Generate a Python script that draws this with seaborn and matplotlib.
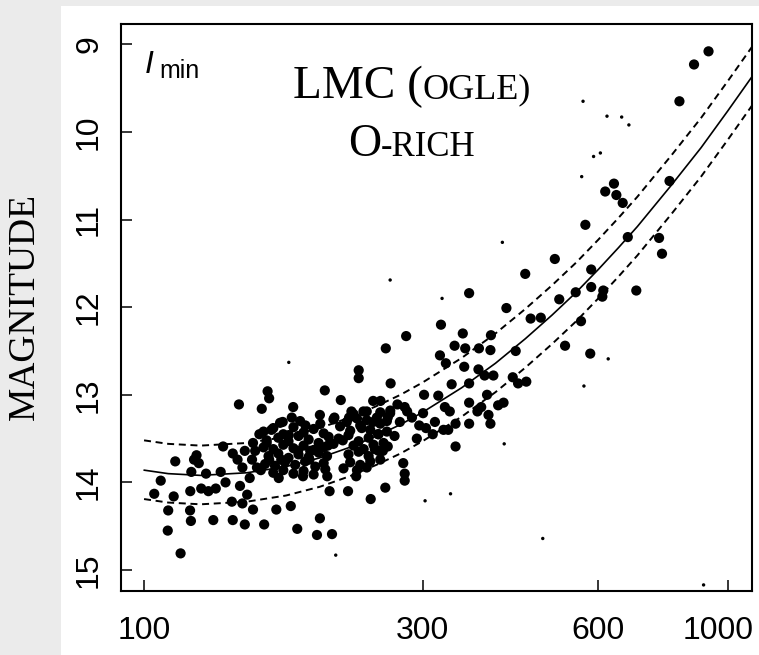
import numpy as np
import pandas as pd
import matplotlib
matplotlib.use("Agg")
import matplotlib.pyplot as plt
import matplotlib.transforms as mtransforms
import seaborn as sns
from matplotlib.patches import Rectangle
from matplotlib.ticker import FixedLocator, FixedFormatter, NullLocator

# ---- fitted relation and its +/- band ----
curve_period = [100, 110, 125, 150, 175, 200, 225, 250, 275, 300, 350, 400,
                450, 500, 550, 600, 650, 700, 800, 900, 1000, 1100]
fit_mag = [13.86, 13.90, 13.92, 13.89, 13.82, 13.72, 13.60, 13.47, 13.34, 13.20,
           12.92, 12.64, 12.36, 12.09, 11.83, 11.57, 11.32, 11.08, 10.61, 10.18,
           9.76, 9.37]
upper_mag = [13.52, 13.56, 13.58, 13.55, 13.48, 13.38, 13.26, 13.13, 13.00, 12.86,
             12.58, 12.30, 12.02, 11.75, 11.49, 11.23, 10.98, 10.74, 10.27, 9.84,
             9.42, 9.03]
lower_mag = [14.19, 14.23, 14.25, 14.22, 14.15, 14.05, 13.93, 13.80, 13.67, 13.53,
             13.25, 12.97, 12.69, 12.42, 12.16, 11.90, 11.65, 11.41, 10.94, 10.51,
             10.09, 9.70]

# ---- large dots (period in days, I magnitude at minimum) ----
big_period = [
    104.1, 106.8, 110.0, 109.8, 112.4, 113.1, 115.5, 119.9, 120.3, 121.8, 123.0, 124.1,
    120.5, 120.0, 125.3, 127.7, 128.9, 131.4, 132.7, 135.3, 136.6, 137.9, 141.4, 141.9,
    141.9, 144.6, 145.4, 146.0, 147.4, 148.8, 147.4, 150.2, 148.8, 151.7, 153.1, 153.7,
    153.7, 156.1, 157.6, 159.1, 160.6, 162.2, 162.8, 163.8, 163.8, 165.3, 168.5, 170.1,
    171.8, 172.8, 178.4, 179.1, 180.1, 183.0, 183.6, 187.2, 189.0, 192.6, 197.8, 200.1,
    200.1, 204.0, 206.0, 207.9, 209.9, 211.9, 217.3, 223.6, 224.5, 226.6, 230.9, 233.2,
    233.2, 237.6, 244.5, 246.9, 254.1, 259.0, 259.5, 261.5, 264.5, 264.0, 271.7, 279.6,
    278.0, 279.6, 279.6, 281.2, 282.3, 287.7, 293.3, 296.1, 300.6, 301.8, 304.1, 315.0,
    319.2, 321.3, 322.6, 325.8, 327.6, 328.9, 334.0, 336.5, 340.4, 341.7, 341.7, 351.6,
    353.6, 355.0, 360.5, 360.5, 360.5, 360.5, 372.5, 374.0, 374.7, 378.1, 383.2, 386.9,
    389.1, 392.1, 392.1, 392.9, 396.7, 404.2, 412.9, 417.6, 428.2, 433.2, 437.3, 451.7,
    449.8, 459.5, 478.3, 505.5, 514.4, 526.3, 548.9, 560.5, 570.2, 581.3, 583.5, 583.5,
    609.7, 612.0, 616.7, 638.3, 644.4, 660.7, 674.1, 697.1, 762.6, 771.5, 794.7, 826.4,
    875.4, 926.9,
    261.5, 274.3, 268.6, 256.5, 251.7, 246.9, 312.3, 332.0,
    160.2, 166.5, 173.2, 180.3, 187.6, 195.2, 203.1, 216.7, 225.5, 234.6, 244.1, 253.9,
    162.2, 169.8, 176.8, 183.9, 191.4, 199.1, 207.1, 215.4, 224.0, 233.1, 242.5, 252.2, 260.6,
    160.2, 166.5, 173.2, 180.3, 187.6, 195.2, 203.1, 211.1, 228.5, 237.8, 247.2, 257.2,
    163.4, 169.8, 176.8, 183.9, 191.4, 199.1, 205.8, 224.0, 233.1, 242.5, 252.2,
    161.2, 167.6, 174.3, 181.5, 188.8, 196.5, 203.1, 225.5, 234.6, 244.1, 253.9,
    166.5, 173.2, 180.3, 187.6, 195.2, 204.4, 219.6, 231.6, 240.7,
    171.0, 185.1, 200.4, 211.1, 222.5, 231.6, 240.7, 250.5, 260.6,
    228.5, 240.7, 253.9, 264.1,
    155.0, 158.5, 177.0, 192.0, 206.5, 219.0, 236.0, 248.5,
]
big_mag = [
    14.13, 13.98, 14.32, 14.55, 14.16, 13.76, 14.81, 14.32, 14.44, 13.74, 13.69, 13.78,
    13.88, 14.10, 14.07, 13.90, 14.10, 14.43, 14.07, 13.88, 13.59, 14.00, 14.22, 14.43,
    13.67, 13.74, 13.11, 14.04, 13.83, 14.48, 14.24, 14.14, 13.64, 13.95, 13.74, 14.31,
    13.55, 13.83, 13.45, 13.16, 14.48, 13.55, 12.96, 13.04, 13.74, 13.40, 14.31, 13.95,
    13.74, 13.31, 14.27, 13.26, 13.14, 14.53, 13.64, 13.93, 13.35, 13.64, 14.60, 14.41,
    13.23, 12.95, 13.93, 14.10, 14.59, 13.26, 13.06, 14.10, 13.26, 13.19, 13.93, 12.72,
    12.81, 13.19, 14.19, 13.07, 13.07, 14.06, 12.47, 13.59, 12.87, 13.21, 13.11, 13.14,
    13.78, 13.90, 13.98, 12.33, 13.19, 13.26, 13.50, 13.35, 13.21, 13.00, 13.38, 13.31,
    13.01, 12.55, 12.20, 13.40, 13.14, 12.64, 13.19, 12.88, 12.44, 13.33, 13.59, 12.30,
    12.68, 12.47, 12.87, 13.09, 13.33, 11.84, 13.19, 12.71, 12.47, 13.14, 12.78, 13.00,
    13.23, 12.49, 13.33, 12.32, 12.78, 13.12, 13.09, 12.01, 12.80, 12.50, 12.87, 12.85,
    11.62, 12.13, 12.12, 11.45, 11.91, 12.44, 11.83, 12.16, 11.06, 12.53, 11.77, 11.57,
    11.88, 11.81, 10.68, 10.59, 10.72, 10.81, 11.20, 11.81, 11.21, 11.39, 10.56, 9.65,
    9.23, 9.08,
    13.26, 13.31, 13.47, 13.64, 13.45, 13.31, 13.45, 13.40,
    13.42, 13.38, 13.45, 13.37, 13.43, 13.39, 13.44, 13.36, 13.41, 13.35, 13.40, 13.33,
    13.52, 13.49, 13.53, 13.47, 13.51, 13.55, 13.48, 13.50, 13.46, 13.53, 13.49, 13.45, 13.42,
    13.60, 13.62, 13.57, 13.61, 13.58, 13.63, 13.60, 13.56, 13.58, 13.62, 13.57, 13.55,
    13.70, 13.67, 13.72, 13.68, 13.71, 13.66, 13.70, 13.68, 13.65, 13.70, 13.64,
    13.79, 13.81, 13.77, 13.80, 13.76, 13.82, 13.78, 13.77, 13.80, 13.76, 13.74,
    13.89, 13.86, 13.90, 13.87, 13.91, 13.85, 13.84, 13.86, 13.83,
    13.32, 13.30, 13.33, 13.28, 13.31, 13.27, 13.29, 13.26, 13.30,
    13.22, 13.19, 13.20, 13.18,
    13.64, 13.86, 13.46, 13.74, 13.58, 13.52, 13.38, 13.62,
]

# ---- small dots ----
small_period = [565, 621, 658, 677, 589, 605, 562, 411, 264, 324, 177, 624, 567,
                414, 303, 335, 482, 213, 909]
small_mag = [9.65, 9.82, 9.83, 9.92, 10.28, 10.24, 10.51, 11.26, 11.69, 11.90, 12.63,
             12.59, 12.90, 13.56, 14.21, 14.13, 14.64, 14.83, 15.17]

x_ticks = [100, 300, 600, 1000]
x_tick_labels = ["100", "300", "600", "1000"]
y_ticks = [9, 10, 11, 12, 13, 14, 15]
y_tick_labels = ["9", "10", "11", "12", "13", "14", "15"]

sns.set_theme(style="ticks")
plt.rcParams["font.family"] = ["Liberation Sans", "DejaVu Sans"]

W, H = 759, 655
fig = plt.figure(figsize=(W / 100, H / 100), dpi=100, facecolor="#ebebeb")
fig.add_artist(Rectangle((61 / W, 0), (W - 61) / W, (H - 6) / H,
                         transform=fig.transFigure, facecolor="white",
                         edgecolor="none", zorder=-10))
ax = fig.add_axes([120.7 / W, (H - 590.7) / H, 631 / W, 566.7 / H])
ax.set_facecolor("white")

big_df = pd.DataFrame({"period": big_period, "mag": big_mag})
small_df = pd.DataFrame({"period": small_period, "mag": small_mag})
curve_df = pd.DataFrame({"period": curve_period, "fit": fit_mag,
                         "upper": upper_mag, "lower": lower_mag})

sns.scatterplot(data=big_df, x="period", y="mag", ax=ax, s=54, color="black",
                edgecolor="none", linewidth=0, zorder=3)
sns.scatterplot(data=small_df, x="period", y="mag", ax=ax, s=6, color="black",
                edgecolor="none", linewidth=0, zorder=3)
sns.lineplot(data=curve_df, x="period", y="fit", ax=ax, color="black", lw=1.2,
             estimator=None, sort=False, zorder=2)
for col in ["upper", "lower"]:
    sns.lineplot(data=curve_df, x="period", y=col, ax=ax, color="black", lw=1.4,
                 estimator=None, sort=False, zorder=2)
for ln in ax.lines[1:]:
    ln.set_linestyle((0, (3.6, 2.4)))

ax.set_xscale("log")
ax.set_xlim(91.2, 1099)
ax.set_ylim(15.236, 8.768)
ax.xaxis.set_major_locator(FixedLocator(x_ticks))
ax.xaxis.set_major_formatter(FixedFormatter(x_tick_labels))
ax.xaxis.set_minor_locator(NullLocator())
ax.yaxis.set_major_locator(FixedLocator(y_ticks))
ax.yaxis.set_major_formatter(FixedFormatter(y_tick_labels))
ax.yaxis.set_minor_locator(NullLocator())
ax.tick_params(direction="in", length=8, width=1.1, color="black",
               labelsize=23, labelcolor="black")
ax.tick_params(axis="x", pad=18)
ax.tick_params(axis="y", pad=12)
for lab in ax.get_yticklabels():
    lab.set_rotation(90)
    lab.set_va("center")
for sp in ax.spines.values():
    sp.set_visible(True)
    sp.set_linewidth(1.5)
    sp.set_color("black")
ax.set_xlabel("")
ax.set_ylabel("")

# shift the last x tick label left a little so it stays inside the figure
last_tick = ax.xaxis.get_major_ticks()[-1]
last_tick.label1.set_transform(
    last_tick.label1.get_transform()
    + mtransforms.ScaledTranslation(-10 / 100, 0, fig.dpi_scale_trans))

serif = ["Liberation Serif", "DejaVu Serif"]
fig.text(25 / W, (H - 307) / H, "MAGNITUDE", rotation=90, family=serif,
         size=27, ha="center", va="center", color="black")

# I_min label
fig.text(145 / W, (H - 73) / H, "I", style="italic", size=23, ha="left",
         va="baseline", color="black")
fig.text(159 / W, (H - 78) / H, "min", size=18, ha="left", va="baseline",
         color="black")

# Title with small caps
renderer = fig.canvas.get_renderer()

def caps_line(parts, cx, base_y):
    texts = []
    for s, size in parts:
        t = fig.text(0, (H - base_y) / H, s, family=serif, size=size,
                     ha="left", va="baseline", color="black")
        texts.append(t)
    widths = [t.get_window_extent(renderer).width for t in texts]
    x = cx - sum(widths) / 2
    for t, w in zip(texts, widths):
        t.set_x(x / W)
        x += w

caps_line([("LMC (", 34), ("OGLE)", 26)], 412, 98)
caps_line([("O", 33), ("-RICH", 25)], 412, 156)

fig.savefig("out.png", dpi=100, facecolor=fig.get_facecolor())
